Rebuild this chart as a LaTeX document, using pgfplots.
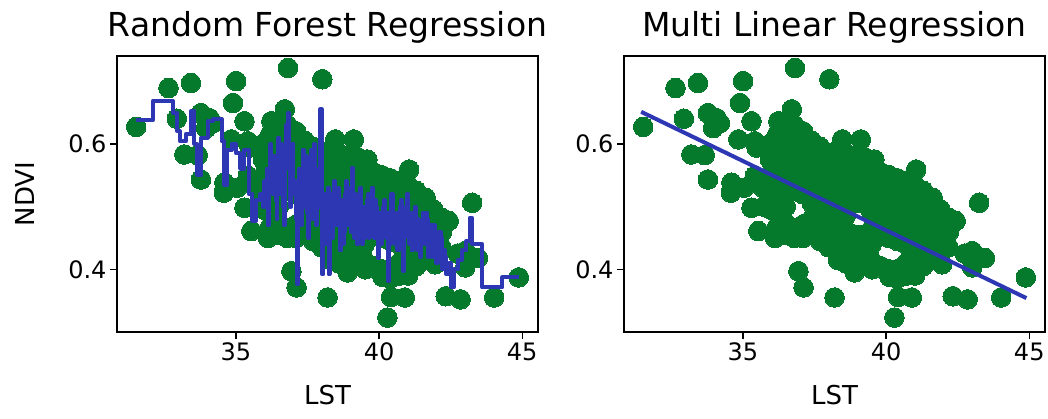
\documentclass[border=0pt]{standalone}
\usepackage{fontspec}
\setmainfont{DejaVu Sans}
\usepackage{pgfplots}
\pgfplotsset{compat=1.18}
\usepackage{pgfplotstable}
\definecolor{ptgreen}{RGB}{5,122,45}
\definecolor{lineblue}{RGB}{45,55,180}

\pgfplotstableread{
x y
31.52 0.627
32.65 0.689
33.43 0.697
32.94 0.640
33.78 0.649
34.08 0.641
33.96 0.625
34.20 0.633
33.20 0.583
33.67 0.582
33.78 0.543
34.60 0.538
34.58 0.522
35.01 0.700
34.90 0.665
35.30 0.636
34.84 0.607
35.42 0.604
35.48 0.594
35.42 0.549
35.05 0.530
36.82 0.721
38.02 0.703
36.71 0.655
36.24 0.636
36.94 0.397
37.12 0.371
38.20 0.355
35.30 0.498
35.54 0.461
36.12 0.450
40.29 0.323
40.42 0.356
40.90 0.355
43.25 0.506
42.19 0.482
42.43 0.477
43.01 0.429
43.45 0.418
43.01 0.403
42.75 0.425
44.88 0.387
42.33 0.357
42.85 0.352
44.02 0.355
41.96 0.408
38.47 0.607
39.12 0.607
39.59 0.575
41.05 0.559
41.63 0.514
35.70 0.530
35.72 0.500
35.95 0.600
35.95 0.575
35.97 0.550
35.93 0.520
35.98 0.495
36.20 0.615
36.22 0.590
36.18 0.565
36.21 0.540
36.19 0.515
36.23 0.490
36.20 0.468
36.50 0.625
36.48 0.600
36.52 0.575
36.49 0.550
36.51 0.525
36.50 0.500
36.47 0.475
36.52 0.455
36.80 0.630
36.78 0.608
36.70 0.578
36.82 0.550
36.79 0.525
36.81 0.466
36.80 0.450
37.10 0.620
37.12 0.595
37.08 0.570
37.11 0.545
37.09 0.520
37.13 0.472
37.10 0.450
37.40 0.605
37.38 0.580
37.42 0.555
37.39 0.530
37.41 0.505
37.40 0.480
37.38 0.455
37.70 0.595
37.72 0.570
37.68 0.545
37.71 0.520
37.69 0.495
37.72 0.470
37.70 0.445
38.00 0.585
38.02 0.560
37.98 0.535
38.01 0.510
38.03 0.485
37.99 0.460
38.00 0.435
38.30 0.590
38.28 0.565
38.32 0.540
38.29 0.515
38.31 0.490
38.30 0.465
38.28 0.440
38.32 0.415
38.60 0.585
38.58 0.560
38.62 0.535
38.60 0.510
38.59 0.485
38.61 0.460
38.60 0.435
38.58 0.410
38.90 0.580
38.92 0.555
38.88 0.530
38.91 0.505
38.90 0.455
38.89 0.430
38.92 0.405
38.90 0.395
39.20 0.580
39.22 0.555
39.18 0.530
39.21 0.505
39.20 0.455
39.19 0.430
39.22 0.405
39.50 0.565
39.48 0.540
39.52 0.515
39.49 0.490
39.51 0.465
39.50 0.440
39.48 0.415
39.52 0.400
39.80 0.555
39.78 0.530
39.82 0.505
39.80 0.480
39.79 0.455
39.81 0.405
40.10 0.550
40.12 0.525
40.08 0.500
40.11 0.475
40.09 0.450
40.10 0.400
40.12 0.388
40.40 0.545
40.38 0.520
40.42 0.495
40.39 0.470
40.41 0.445
40.40 0.400
40.38 0.385
40.70 0.540
40.72 0.515
40.68 0.490
40.71 0.465
40.69 0.440
40.70 0.410
40.72 0.390
41.00 0.535
41.02 0.510
40.98 0.485
41.01 0.460
40.99 0.435
41.00 0.410
41.02 0.390
41.30 0.525
41.28 0.500
41.32 0.475
41.29 0.450
41.31 0.425
41.30 0.405
41.60 0.510
41.58 0.485
41.62 0.460
41.59 0.435
41.61 0.415
41.90 0.495
41.88 0.470
41.92 0.445
41.89 0.420
42.20 0.460
42.18 0.435
}\scatterdata

\pgfplotstableread{
x y
31.52 0.638
32.11 0.669
32.80 0.649
32.95 0.620
33.05 0.604
33.25 0.615
33.44 0.652
33.55 0.600
33.65 0.551
33.80 0.610
34.02 0.636
34.20 0.640
34.50 0.604
34.60 0.535
34.70 0.590
34.85 0.600
35.00 0.585
35.15 0.560
35.30 0.590
35.45 0.520
35.58 0.477
35.70 0.510
35.85 0.520
35.95 0.500
36.00 0.540
36.04 0.500
36.08 0.560
36.12 0.470
36.16 0.530
36.20 0.599
36.24 0.540
36.28 0.520
36.32 0.580
36.35 0.560
36.39 0.510
36.42 0.480
36.45 0.560
36.48 0.610
36.52 0.550
36.55 0.520
36.59 0.600
36.62 0.580
36.65 0.500
36.68 0.470
36.72 0.560
36.75 0.630
36.79 0.590
36.82 0.649
36.86 0.560
36.90 0.500
36.93 0.570
36.97 0.600
37.01 0.520
37.05 0.540
37.10 0.480
37.14 0.376
37.17 0.500
37.20 0.560
37.24 0.520
37.27 0.470
37.30 0.540
37.33 0.590
37.37 0.530
37.40 0.500
37.44 0.580
37.47 0.560
37.50 0.490
37.53 0.450
37.57 0.520
37.60 0.540
37.64 0.590
37.67 0.480
37.70 0.530
37.74 0.600
37.77 0.520
37.80 0.470
37.84 0.540
37.87 0.560
37.91 0.500
37.95 0.655
38.00 0.480
38.02 0.392
38.06 0.470
38.10 0.520
38.13 0.440
38.17 0.470
38.20 0.530
38.24 0.392
38.27 0.470
38.30 0.520
38.34 0.480
38.37 0.450
38.40 0.510
38.44 0.540
38.47 0.490
38.50 0.470
38.54 0.520
38.57 0.530
38.60 0.470
38.64 0.430
38.67 0.480
38.70 0.510
38.74 0.440
38.77 0.460
38.80 0.520
38.84 0.540
38.87 0.470
38.90 0.480
38.94 0.530
38.97 0.520
39.01 0.460
39.05 0.562
39.08 0.500
39.12 0.450
39.15 0.520
39.19 0.510
39.22 0.440
39.26 0.470
39.29 0.500
39.33 0.530
39.36 0.460
39.40 0.440
39.43 0.500
39.47 0.500
39.50 0.450
39.54 0.460
39.57 0.510
39.61 0.520
39.64 0.450
39.68 0.470
39.71 0.500
39.75 0.530
39.78 0.470
39.82 0.450
39.86 0.510
39.90 0.500
39.93 0.450
39.97 0.418
40.00 0.470
40.04 0.490
40.07 0.440
40.11 0.460
40.14 0.500
40.18 0.510
40.21 0.470
40.25 0.450
40.28 0.490
40.32 0.381
40.36 0.440
40.40 0.470
40.43 0.520
40.47 0.500
40.50 0.450
40.54 0.440
40.57 0.480
40.61 0.490
40.64 0.430
40.68 0.460
40.72 0.500
40.76 0.510
40.79 0.450
40.83 0.397
40.86 0.450
40.90 0.480
40.93 0.500
40.97 0.520
41.00 0.470
41.04 0.440
41.07 0.480
41.11 0.490
41.14 0.430
41.18 0.450
41.21 0.480
41.25 0.500
41.28 0.450
41.32 0.430
41.35 0.480
41.39 0.470
41.42 0.420
41.46 0.440
41.50 0.470
41.53 0.490
41.56 0.440
41.60 0.450
41.63 0.490
41.67 0.480
41.70 0.420
41.74 0.430
41.77 0.460
41.81 0.470
41.84 0.420
41.88 0.440
41.91 0.470
41.95 0.460
42.00 0.410
42.05 0.420
42.10 0.460
42.15 0.450
42.20 0.400
42.25 0.430
42.30 0.420
42.35 0.392
42.45 0.410
42.52 0.371
42.62 0.400
42.75 0.415
42.90 0.430
43.05 0.445
43.16 0.482
43.25 0.440
43.50 0.440
43.60 0.371
44.30 0.387
44.88 0.387
}\rfline

\pgfplotstableread{
x y
31.45 0.651
44.90 0.354
}\mlrline

\pgfplotsset{
  panel/.style={
    width=421pt, height=276pt, scale only axis,
    anchor=south west,
    clip marker paths=true,
    xmin=30.85, xmax=45.55, ymin=0.30, ymax=0.74,
    xtick={35,40,45}, ytick={0.4,0.6},
    xtick pos=bottom, ytick pos=left,
    tick align=outside, major tick length=7pt,
    every tick/.style={black, line width=1.4pt},
    axis line style={line width=1.6pt, black},
    tick label style={font=\fontsize{24}{28}\selectfont},
    /pgf/number format/assume math mode=true,
    yticklabel style={/pgf/number format/fixed, /pgf/number format/precision=1, /pgf/number format/fixed zerofill},
    label style={font=\fontsize{26}{30}\selectfont},
    title style={font=\fontsize{33}{38}\selectfont, at={(axis description cs:0.5,1.0507)}, anchor=base},
    xlabel style={at={(axis description cs:0.5,-0.2645)}, anchor=base},
    xlabel={LST},
  },
  scat/.style={only marks, color=ptgreen, mark=*, mark size=9.8pt, mark options={fill=ptgreen, draw=ptgreen, line width=0pt}},
}

\begin{document}
\begin{tikzpicture}
\path[use as bounding box] (0,0) rectangle (1048pt,419pt);
\begin{axis}[panel, at={(117pt,87pt)}, title={Random Forest Regression},
  ylabel={NDVI}, ylabel style={at={(axis description cs:-0.2185,0.5)}, anchor=center}]
  \addplot[scat] table {\scatterdata};
  \addplot[const plot, lineblue, line width=4pt, line join=round, no marks] table {\rfline};
\end{axis}
\begin{axis}[panel, at={(624pt,87pt)}, title={Multi Linear Regression}]
  \addplot[scat] table {\scatterdata};
  \addplot[lineblue, line width=4pt, no marks] table {\mlrline};
\end{axis}
\end{tikzpicture}
\end{document}
